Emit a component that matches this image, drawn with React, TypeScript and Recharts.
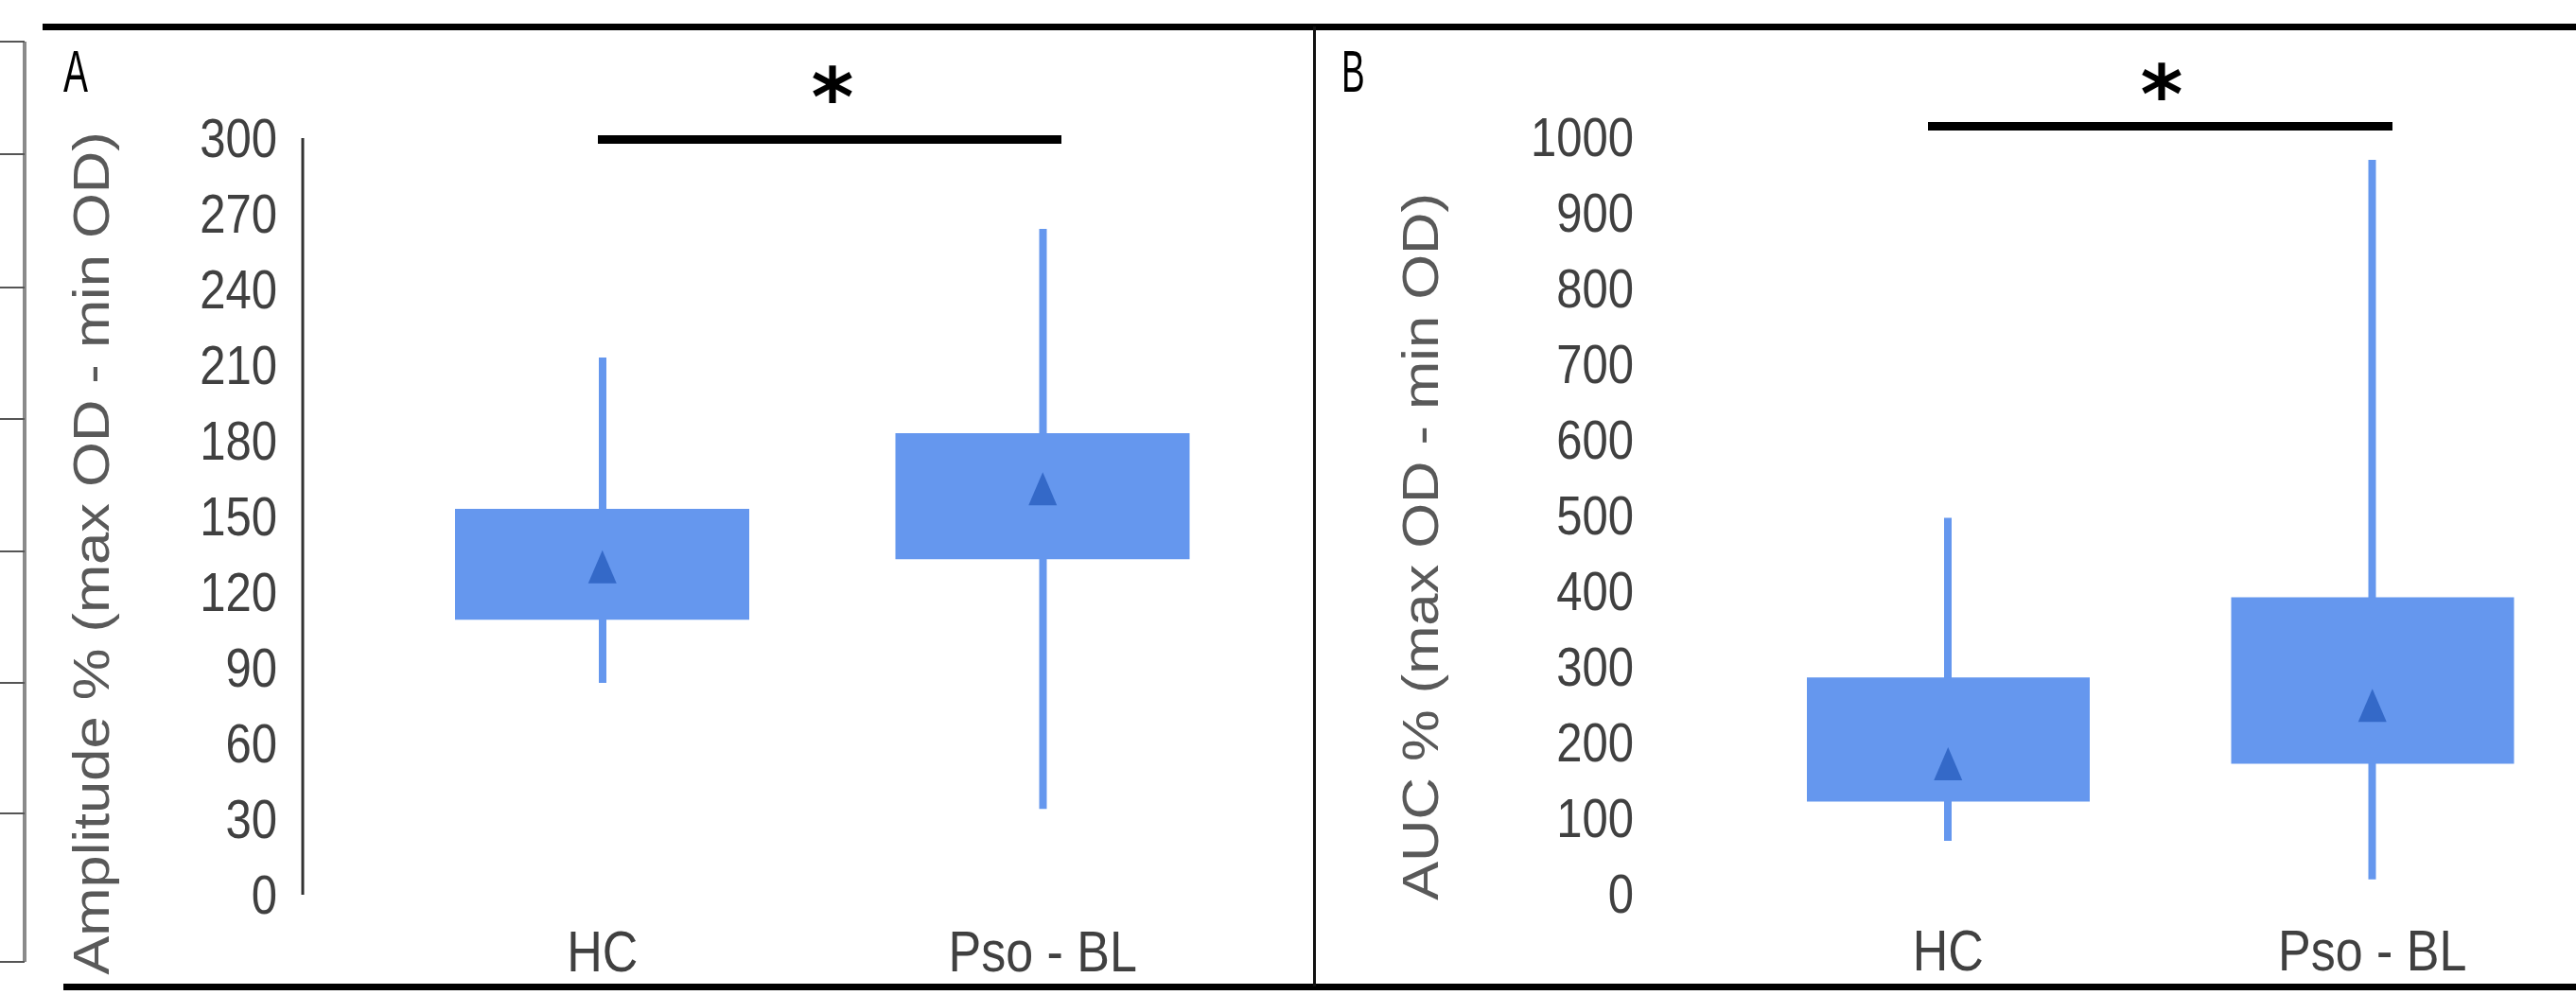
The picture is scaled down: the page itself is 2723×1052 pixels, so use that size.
import { Bar, ComposedChart, Line, XAxis, YAxis } from 'recharts'

const categories = ['HC', 'Pso - BL']

// panel A: amplitude
const ampMin = [84, 34]
const ampQ1 = [109, 133]
const ampQ3 = [153, 183]
const ampMax = [213, 264]
const ampMean = [130, 161]
const ampTicks = [0, 30, 60, 90, 120, 150, 180, 210, 240, 270, 300]

// panel B: AUC
const aucMin = [70, 19]
const aucQ1 = [122, 172]
const aucQ3 = [286, 392]
const aucMax = [497, 970]
const aucMean = [172, 249]
const aucTicks = [0, 100, 200, 300, 400, 500, 600, 700, 800, 900, 1000]

const BOX = '#6597EE'
const MEAN = '#3469C8'
const TICK = '#404040'
const TITLE = '#595959'
const FONT = '"Liberation Sans", Arial, sans-serif'

const rows = (min: number[], q1: number[], q3: number[], max: number[], mean: number[]) =>
  categories.map((cat, i) => ({
    cat,
    whisker: [min[i], max[i]],
    box: [q1[i], q3[i]],
    mean: mean[i],
  }))

const ampData = rows(ampMin, ampQ1, ampQ3, ampMax, ampMean)
const aucData = rows(aucMin, aucQ1, aucQ3, aucMax, aucMean)

function YTick({ x, y, payload }: any) {
  return (
    <text
      transform={`translate(${x},${y + 20}) scale(1,1.16)`}
      textAnchor="end"
      fontSize={49}
      fontFamily={FONT}
      fill={TICK}
    >
      {payload.value}
    </text>
  )
}

function XTick({ x, y, payload }: any) {
  return (
    <text
      transform={`translate(${x},${y + 81}) scale(1,1.16)`}
      textAnchor="middle"
      fontSize={52}
      fontFamily={FONT}
      fill={TICK}
    >
      {payload.value}
    </text>
  )
}

function MeanMark({ cx, cy, index }: any) {
  if (cx == null || cy == null) return null
  return (
    <polygon
      key={index}
      points={`${cx},${cy - 17.5} ${cx + 15},${cy + 17.5} ${cx - 15},${cy + 17.5}`}
      fill={MEAN}
    />
  )
}

interface PanelProps {
  data: ReturnType<typeof rows>
  ticks: number[]
  max: number
  width: number
  top: number
  yWidth: number
  padLeft: number
  boxSize: number
  showAxis: boolean
}

function BoxPanel({ data, ticks, max, width, top, yWidth, padLeft, boxSize, showAxis }: PanelProps) {
  return (
    <ComposedChart width={width} height={1052} data={data} margin={{ top, right: 0, bottom: 0, left: 0 }}>
      <XAxis
        xAxisId="cat"
        dataKey="cat"
        height={1052 - top - 800}
        padding={{ left: padLeft, right: 0 }}
        axisLine={false}
        tickLine={false}
        tickSize={0}
        tickMargin={0}
        tick={XTick}
        interval={0}
      />
      <XAxis xAxisId="w" dataKey="cat" hide padding={{ left: padLeft, right: 0 }} />
      <YAxis
        domain={[0, max]}
        ticks={ticks}
        interval={0}
        width={yWidth}
        tickSize={0}
        tickMargin={27}
        tick={YTick}
        tickLine={false}
        axisLine={showAxis ? { stroke: '#333', strokeWidth: 3 } : false}
      />
      <Bar xAxisId="w" dataKey="whisker" barSize={8} fill={BOX} isAnimationActive={false} />
      <Bar xAxisId="cat" dataKey="box" barSize={boxSize} fill={BOX} isAnimationActive={false} />
      <Line
        xAxisId="cat"
        dataKey="mean"
        stroke="none"
        dot={MeanMark}
        activeDot={false}
        isAnimationActive={false}
      />
    </ComposedChart>
  )
}

const fragTicks = [44, 163, 304, 443, 583, 722, 860, 1017]

export default function App() {
  return (
    <div
      style={{
        position: 'absolute',
        left: 0,
        top: 0,
        width: 2723,
        height: 1052,
        overflow: 'hidden',
        background: '#fff',
      }}
    >
      <div style={{ position: 'absolute', left: 0, top: 0 }}>
        <BoxPanel
          data={ampData}
          ticks={ampTicks}
          max={300}
          width={1335}
          top={146}
          yWidth={320}
          padLeft={84}
          boxSize={311}
          showAxis
        />
      </div>
      <div style={{ position: 'absolute', left: 1392, top: 0 }}>
        <BoxPanel
          data={aucData}
          ticks={aucTicks}
          max={1000}
          width={1340}
          top={145}
          yWidth={362}
          padLeft={81}
          boxSize={299}
          showAxis={false}
        />
      </div>
      <svg
        width={2723}
        height={1052}
        style={{ position: 'absolute', left: 0, top: 0, pointerEvents: 'none' }}
      >
        {/* piece of the neighbouring figure */}
        <line x1={26} y1={44} x2={26} y2={1017} stroke="#8a8a8a" strokeWidth={4} />
        {fragTicks.map((y) => (
          <line key={y} x1={0} x2={26} y1={y} y2={y} stroke="#555" strokeWidth={2} />
        ))}
        {/* frame */}
        <rect x={45} y={25} width={2678} height={7} fill="#000" />
        <rect x={67} y={1040} width={2656} height={7} fill="#000" />
        <rect x={1388} y={28} width={3} height={1015} fill="#111" />
        {/* panel letters */}
        <text transform="translate(67,97) scale(0.78,1.26)" fontSize={50} fontFamily={FONT} fill="#000">
          A
        </text>
        <text transform="translate(1418,97) scale(0.74,1.26)" fontSize={50} fontFamily={FONT} fill="#000">
          B
        </text>
        {/* significance */}
        <rect x={632} y={143} width={490} height={9} fill="#000" />
        <rect x={2038} y={129} width={491} height={9} fill="#000" />
        <text x={880} y={133} textAnchor="middle" fontSize={86} fontWeight="bold" fontFamily="DejaVu Sans" fill="#000">
          *
        </text>
        <text x={2285} y={130} textAnchor="middle" fontSize={86} fontWeight="bold" fontFamily="DejaVu Sans" fill="#000">
          *
        </text>
        {/* axis titles */}
        <text
          transform="translate(115,585) rotate(-90) scale(1.16,1)"
          textAnchor="middle"
          fontSize={53}
          fontFamily={FONT}
          fill={TITLE}
        >
          Amplitude % (max OD - min OD)
        </text>
        <text
          transform="translate(1520,578) rotate(-90) scale(1.16,1)"
          textAnchor="middle"
          fontSize={53}
          fontFamily={FONT}
          fill={TITLE}
        >
          AUC % (max OD - min OD)
        </text>
      </svg>
    </div>
  )
}
